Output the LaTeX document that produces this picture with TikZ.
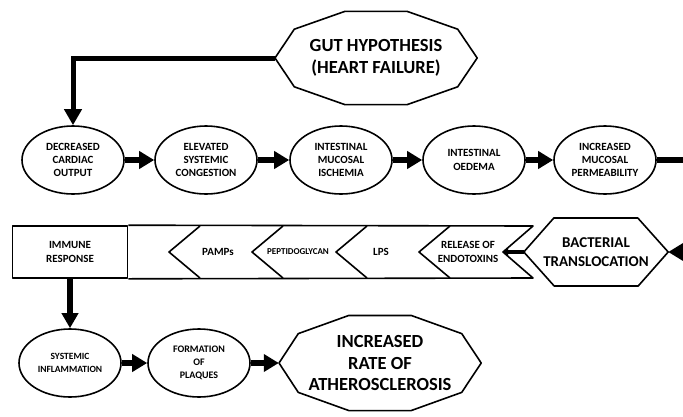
\documentclass[tikz,border=0pt]{standalone}
\usepackage{fontspec}
\setmainfont{Carlito}
\usepackage{tikz}
\usetikzlibrary{arrows.meta,calc,shapes.geometric}

\tikzset{
  oval/.style={draw, ellipse, line width=1.6pt, minimum width=102pt, minimum height=68pt, inner sep=0pt, align=center, font=\fontsize{11}{13.3}\selectfont\bfseries},
  bigtext/.style={align=center, inner sep=0pt, font=\fontsize{18.5}{22}\selectfont\bfseries},
  smalltext/.style={align=center, inner sep=0pt, font=\fontsize{11}{14}\selectfont\bfseries},
  outline/.style={line width=1.6pt, line join=round},
  fatarrow/.style={line width=6pt, -{Triangle[length=15pt,width=17pt]}},
}

\begin{document}
\begin{tikzpicture}[x=1pt,y=-1pt]
\clip (0,0) rectangle (683,416);
\pgfmathsetmacro{\rowy}{160}
% top row
\node[oval] (cardiac) at (73,\rowy) {DECREASED\\CARDIAC\\OUTPUT};
\node[oval] (congestion) at (206,\rowy) {ELEVATED\\SYSTEMIC\\CONGESTION};
\node[oval] (ischemia) at (341,\rowy) {INTESTINAL\\MUCOSAL\\ISCHEMIA};
\node[oval] (oedema) at (474,\rowy) {INTESTINAL\\OEDEMA};
\node[oval] (permeab) at (605,\rowy) {INCREASED\\MUCOSAL\\PERMEABILITY};
\draw[fatarrow] (cardiac) -- (congestion);
\draw[fatarrow] (congestion) -- (ischemia);
\draw[fatarrow] (ischemia) -- (oedema);
\draw[fatarrow] (oedema) -- (permeab);

% gut hypothesis
\node[bigtext, minimum width=202pt, minimum height=98pt] (gut) at (376,58) {GUT HYPOTHESIS\\(HEART FAILURE)};
\draw[outline] (gut.east) \foreach \a in {36,72,...,324} { -- ($(gut.center)+(\a:101 and 49)$) } -- cycle;
\draw[line width=5pt, -{Triangle[length=16pt,width=17pt]}] (gut.west) -| (cardiac.north);

% middle band
\node[draw, outline, smalltext, minimum width=115pt, minimum height=52pt] (immune) at (70,252) {IMMUNE\\RESPONSE};
\coordinate (notch) at (503,252);
\draw[outline] (immune.north east) -- (533,226) -- (notch) -- (533,278) -- (immune.south east);
\foreach \x in {169,252,336,419}
  \draw[outline] (\x+31,226) -- (\x,252) -- (\x+31,278);
\node[smalltext] (pamps) at (218,252) {PAMPs};
\node[smalltext, font=\fontsize{9}{11}\selectfont\bfseries] (pepti) at (298,252) {PEPTIDOGLYCAN};
\node[smalltext] (lps) at (381,252) {LPS};
\node[smalltext] (endotox) at (468,252) {RELEASE OF\\ENDOTOXINS};

% bacterial translocation
\node[align=center, inner sep=0pt, minimum width=144pt, minimum height=68pt, font=\fontsize{15}{19}\selectfont\bfseries] (bact) at (596,252) {BACTERIAL\\TRANSLOCATION};
\draw[outline] (bact.west) -- ++(30,-34) -- ++(84,0) -- (bact.east) -- ++(-30,34) -- ++(-84,0) -- cycle;
\draw[line width=4.5pt, -{Triangle[length=5pt,width=8pt]}] (bact.west) -- (notch);
\draw[fatarrow] (permeab.east) -- ++(40,0) |- (bact.east);

% bottom row
\node[oval, font=\fontsize{9.5}{13}\selectfont\bfseries] (inflam) at (70,363) {SYSTEMIC\\INFLAMMATION};
\node[oval, font=\fontsize{10}{13}\selectfont\bfseries] (plaques) at (199,363) {FORMATION\\OF\\PLAQUES};
\node[bigtext, font=\fontsize{18.5}{21.7}\selectfont\bfseries, minimum width=202pt, minimum height=100pt] (athero) at (380,363) {INCREASED\\RATE OF\\ATHEROSCLEROSIS};
\draw[outline] (athero.east) \foreach \a in {36,72,...,324} { -- ($(athero.center)+(\a:101 and 50)$) } -- cycle;
\draw[line width=5.5pt, -{Triangle[length=15pt,width=16pt]}] (immune.south) -- (inflam.north);
\draw[fatarrow] (inflam) -- (plaques);
\draw[fatarrow] (plaques) -- (athero.west);
\end{tikzpicture}
\end{document}
